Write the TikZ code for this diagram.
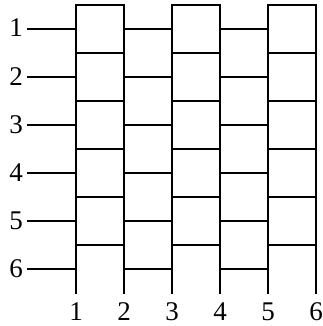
\documentclass[tikz,border=0pt]{standalone}
\usepackage{fontspec}
\setmainfont{Liberation Serif}
\begin{document}
\begin{tikzpicture}[x=1pt,y=-1pt,line width=1.2pt,line cap=rect,
  lbl/.style={font=\fontsize{27}{31}\selectfont,inner sep=0pt,text depth=0pt,anchor=base}]
\useasboundingbox (0,0) rectangle (322,326);
% vertical lines
\foreach \i in {1,...,6} {
  \coordinate (T\i) at ({76+48*(\i-1)},5);
  \coordinate (D\i) at ({76+48*(\i-1)},293);
  \draw (T\i) -- (D\i);
  \node[lbl] (B\i) at ({76+48*(\i-1)},320) {\i};
}
% box rungs
\foreach \k in {0,...,5} {
  \pgfmathsetmacro\yb{5+48*\k}
  \foreach \c in {76,172,268} {
    \draw (\c,\yb) -- ({\c+48},\yb);
  }
}
% wires
\foreach \i in {1,...,6} {
  \pgfmathsetmacro\yw{29+48*(\i-1)}
  \node[lbl] (L\i) at (16,\yw+8) {\i};
  \coordinate (W\i) at (76,\yw);
  \draw ([xshift=4.5pt]L\i.east |- W\i) -- (W\i);
  \draw (124,\yw) -- (172,\yw);
  \draw (220,\yw) -- (268,\yw);
}
\end{tikzpicture}
\end{document}
